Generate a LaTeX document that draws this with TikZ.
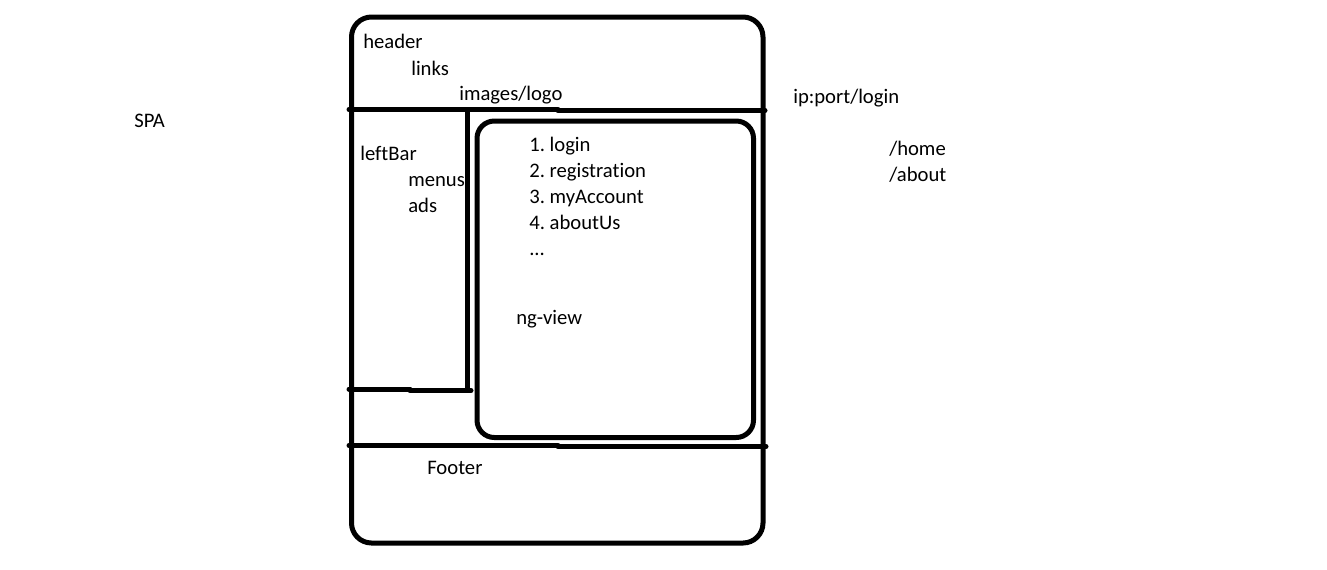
\documentclass[tikz,border=0pt]{standalone}
\usepackage{fontspec}
\setmainfont{Carlito}[Ligatures={NoCommon}]
\frenchspacing

\begin{document}
\begin{tikzpicture}[x=0.75pt,y=-0.75pt] % 1 unit = 1 px, y downwards
\tikzset{
	lbl/.style={anchor=base west, inner sep=0pt, font=\fontsize{15.5}{18}\selectfont},
	wall/.style={line width=3.75pt, line cap=round},
}
\useasboundingbox (0,0) rectangle (1327,569);

% outer page
\draw[wall, rounded corners=15pt] (351.5,17) rectangle (763,543);

% header / footer separators
\draw[wall] (349,109.5) -- (558,109.5);
\draw[wall] (558,110.5) -- (765,110.5);
\draw[wall] (349,445.5) -- (558,445.5);
\draw[wall] (558,446.5) -- (766,446.5);

% left bar
\draw[wall] (467.5,110) -- (467.5,390);
\draw[wall] (349,389) -- (410,389);
\draw[wall] (410,390.5) -- (471,390.5);

% ng-view box
\draw[wall, rounded corners=13pt] (477,121) rectangle (753.5,437.5);

\draw (134,127) node [lbl] (spa) {SPA};

\draw (363,48) node [lbl] (header) {header};
\draw (411,75) node [lbl] (links) {links};
\draw (459,100) node [lbl] (logo) {images/logo};

\draw (360,160) node [lbl] (leftbar) {leftBar};
\draw (408,186) node [lbl] (menus) {menus};
\draw (408,212) node [lbl] (ads) {ads};

\foreach \t [count=\i] in {login,registration,myAccount,aboutUs}
	\draw (529,125+26*\i) node [lbl] (item\i) {\i. \t};
\draw (529,255) node [lbl] (more) {...};

\draw (516,324) node [lbl] (ngview) {ng-view};
\draw (427,474) node [lbl] (footer) {Footer};

\draw (793,103) node [lbl] (url) {ip:port/login};
\draw (889,155) node [lbl] (home) {/home};
\draw (889,181) node [lbl] (about) {/about};

\end{tikzpicture}
\end{document}
